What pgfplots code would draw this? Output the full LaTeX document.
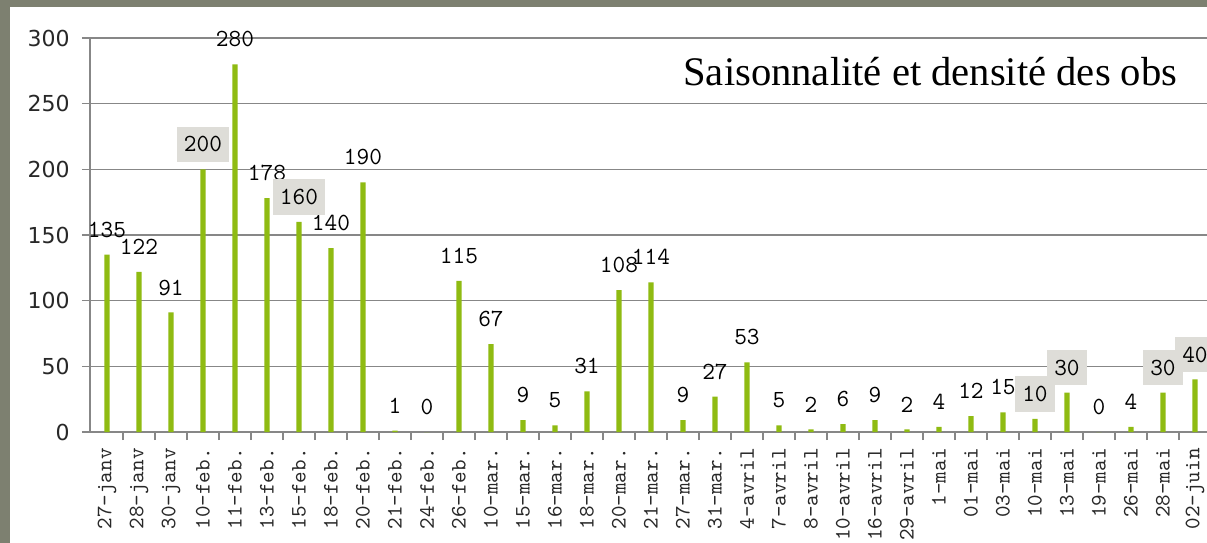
\documentclass[border=0pt]{standalone}
\usepackage{pgfplots}
\pgfplotsset{compat=1.18}
\usepackage{pgfplotstable}
\usepackage{fontspec}
\setmainfont{Liberation Serif}
\newfontfamily\monofont{Latin Modern Mono}
\newfontfamily\ticksans{DejaVu Sans}
\definecolor{bgcol}{RGB}{125,128,112}
\definecolor{barcol}{RGB}{143,187,18}
\definecolor{gridcol}{RGB}{135,135,135}
\definecolor{boxcol}{RGB}{222,221,216}
\definecolor{txtcol}{RGB}{40,40,40}

% all bars
\pgfplotstableread{
x y
0 135
1 122
2 91
3 200
4 280
5 178
6 160
7 140
8 190
9 1
10 0
11 115
12 67
13 9
14 5
15 31
16 108
17 114
18 9
19 27
20 53
21 5
22 2
23 6
24 9
25 2
26 4
27 12
28 15
29 10
30 30
31 0
32 4
33 30
34 40
}\bars
% labels without a box
\pgfplotstableread{
x y
0 135
1 122
2 91
4 280
5 178
7 140
8 190
9 1
10 0
11 115
12 67
13 9
14 5
15 31
16 108
17 114
18 9
19 27
20 53
21 5
22 2
23 6
24 9
25 2
26 4
27 12
28 15
31 0
32 4
}\plainlabels
% labels in a grey box
\pgfplotstableread{
x y
3 200
6 160
29 10
30 30
33 30
34 40
}\boxlabels

\begin{document}
\begin{tikzpicture}
\fill[bgcol] (0,0) rectangle (603.5bp,-271.5bp);
\fill[white] (5bp,-3.5bp) rectangle (603.5bp,-271.5bp);
\begin{axis}[
  at={(45bp,-216bp)}, anchor=south west,
  scale only axis, width=558.5bp, height=197bp,
  xmin=-0.53, xmax=34.376, ymin=0, ymax=300,
  clip=false,
  axis x line*=bottom, axis y line*=left,
  axis line style={gridcol, line width=0.8bp},
  ytick={0,50,...,300},
  ymajorgrids, grid style={gridcol, line width=0.8bp},
  tick align=outside,
  major tick length=4bp, minor tick length=4bp,
  xtick={0,...,34},
  minor x tick num=1,
  major x tick style={draw=none},
  minor x tick style={gridcol, line width=0.7bp},
  major y tick style={gridcol, line width=0.8bp},
  xticklabels={27-janv,28-janv,30-janv,10-feb.,11-feb.,13-feb.,15-feb.,18-feb.,20-feb.,21-feb.,24-feb.,26-feb.,10-mar.,15-mar.,16-mar.,18-mar.,20-mar.,21-mar.,27-mar.,31-mar.,4-avril,7-avril,8-avril,10-avril,16-avril,29-avril,1-mai,01-mai,03-mai,10-mai,13-mai,19-mai,26-mai,28-mai,02-juin},
  xticklabel style={rotate=90, anchor=east, inner sep=0pt, font=\monofont\fontsize{11bp}{12bp}\selectfont, text=txtcol, xshift=-4bp},
  yticklabel style={anchor=east, inner sep=0pt, font=\ticksans\fontsize{11bp}{13bp}\selectfont, text=txtcol, xshift=-6bp},
  /pgf/number format/assume math mode=true,
]
\addplot[ybar, bar width=2.6bp, fill=barcol, draw=none] table[x=x,y=y]{\bars};
\addplot[draw=none, mark=none, nodes near coords,
  every node near coord/.append style={anchor=center, yshift=12.5bp, inner sep=0pt,
    font=\monofont\fontsize{12.3bp}{14bp}\selectfont, text=black}]
  table[x=x,y=y]{\plainlabels};
\addplot[draw=none, mark=none, nodes near coords,
  every node near coord/.append style={anchor=center, yshift=12.5bp, fill=boxcol,
    inner xsep=3.5bp, inner ysep=5bp,
    font=\monofont\fontsize{12.3bp}{14bp}\selectfont, text=black}]
  table[x=x,y=y]{\boxlabels};
\end{axis}
\node[anchor=base west, inner sep=0pt, font=\fontsize{20.3bp}{24bp}\selectfont] at (341.5bp,-42.5bp) {Saisonnalité et densité des obs};
\pgfresetboundingbox
\useasboundingbox (0,0) rectangle (603.5bp,-271.5bp);
\end{tikzpicture}
\end{document}
